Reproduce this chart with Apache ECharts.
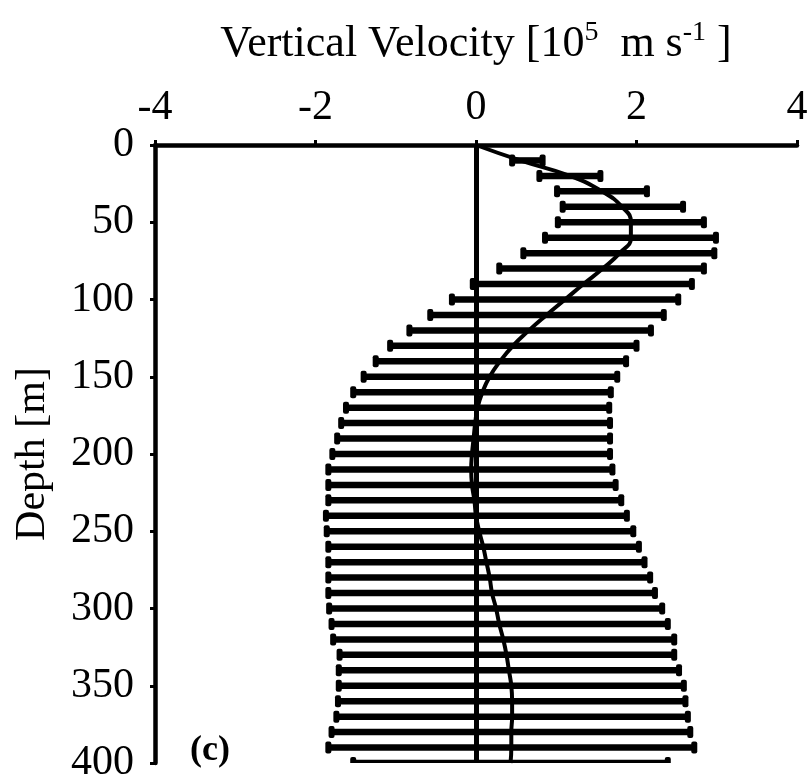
<!DOCTYPE html>
<html>
<head>
<meta charset="utf-8">
<script src="https://cdn.jsdelivr.net/npm/echarts@6/dist/echarts.min.js"></script>
<style>
  html, body { margin: 0; padding: 0; background: #fff; }
  #chart { width: 809px; height: 783px; }
</style>
</head>
<body>
<div id="chart"></div>
<script>
// Depth levels (m) for the mean profile
const curveDepth = [0,10,20,30,40,50,60,70,80,90,100,110,120,130,140,150,160,170,180,190,200,
  210,220,230,240,250,260,270,280,290,300,310,320,330,340,350,360,370,380,390,400];
// Mean vertical velocity profile (1e-5 m/s)
const meanVel = [0,0.55,1.17,1.57,1.82,1.93,1.93,1.79,1.58,1.34,1.11,0.88,0.66,0.46,0.30,0.17,0.08,0.02,-0.01,-0.03,-0.05,
  -0.06,-0.05,-0.02,0.00,0.04,0.09,0.13,0.17,0.20,0.25,0.29,0.34,0.38,0.41,0.44,0.45,0.45,0.44,0.44,0.43];

// Depth levels (m) with a spread bar
const barDepth = [10,20,30,40,50,60,70,80,90,100,110,120,130,140,150,160,170,180,190,200,
  210,220,230,240,250,260,270,280,290,300,310,320,330,340,350,360,370,380,390,400];
// Lower and upper limits of the spread (1e-5 m/s)
const lowerVel = [0.45,0.79,1.01,1.08,1.02,0.86,0.59,0.29,-0.04,-0.30,-0.57,-0.83,-1.07,-1.25,-1.40,-1.53,-1.62,-1.68,-1.73,-1.79,
  -1.84,-1.84,-1.84,-1.87,-1.86,-1.84,-1.84,-1.84,-1.84,-1.83,-1.80,-1.78,-1.70,-1.71,-1.71,-1.72,-1.74,-1.80,-1.84,-1.53];
const upperVel = [0.83,1.55,2.13,2.58,2.84,2.99,2.97,2.84,2.69,2.52,2.34,2.18,2.00,1.87,1.76,1.68,1.66,1.67,1.67,1.67,
  1.70,1.74,1.81,1.88,1.96,2.03,2.10,2.17,2.23,2.32,2.39,2.47,2.47,2.53,2.59,2.61,2.64,2.67,2.72,2.39];

// Axis ticks
const xTicks = [-4, -2, 0, 2, 4];
const yTicks = [0, 50, 100, 150, 200, 250, 300, 350, 400];

const serif = 'Liberation Serif';
const chart = echarts.init(document.getElementById('chart'));

const barData = barDepth.map((d, i) => [lowerVel[i], upperVel[i], d]);
const curveData = curveDepth.map((d, i) => [meanVel[i], d]);

chart.setOption({
  animation: false,
  backgroundColor: '#fff',
  grid: { left: 155, right: 12, top: 145, bottom: 20, containLabel: false, outerBoundsMode: 'none' },
  xAxis: {
    type: 'value',
    position: 'top',
    min: xTicks[0], max: xTicks[xTicks.length - 1], interval: 2,
    splitLine: { show: false },
    axisLine: { show: true, onZero: false, lineStyle: { color: '#000', width: 4.5 } },
    axisTick: { show: true, length: 5, lineStyle: { color: '#000', width: 3 } },
    axisLabel: { color: '#000', fontFamily: serif, fontSize: 42, margin: 16 },
    name: '{a|Vertical Velocity [10}{s|5}{a|  m s}{s|-1}{a| ]}',
    nameLocation: 'middle',
    nameGap: 76,
    nameTextStyle: {
      rich: {
        a: { fontFamily: serif, fontSize: 44, color: '#000', lineHeight: 50 },
        s: { fontFamily: serif, fontSize: 28, color: '#000', lineHeight: 28, verticalAlign: 'top' }
      }
    }
  },
  yAxis: {
    type: 'value',
    inverse: true,
    min: yTicks[0], max: yTicks[yTicks.length - 1], interval: 50,
    splitLine: { show: false },
    axisLine: { show: true, onZero: false, lineStyle: { color: '#000', width: 4.5 } },
    axisTick: { show: true, length: 5, lineStyle: { color: '#000', width: 3 } },
    axisLabel: { color: '#000', fontFamily: serif, fontSize: 42, margin: 21 },
    name: 'Depth [m]',
    nameLocation: 'middle',
    nameGap: 101,
    nameRotate: 90,
    nameTextStyle: { fontFamily: serif, fontSize: 42, color: '#000' }
  },
  graphic: [{
    type: 'text',
    left: 190, top: 733,
    style: { text: '(c)', fontFamily: serif, fontWeight: 'bold', fontSize: 36, fill: '#000' }
  }],
  series: [
    {
      type: 'custom',
      clip: true,
      silent: true,
      data: barData,
      encode: { x: [0, 1], y: 2 },
      renderItem: function (params, api) {
        const d = api.value(2);
        const p1 = api.coord([api.value(0), d]);
        const p2 = api.coord([api.value(1), d]);
        const capH = 12, capW = 6;
        return {
          type: 'group',
          children: [
            { type: 'line', shape: { x1: p1[0], y1: p1[1], x2: p2[0], y2: p2[1] },
              style: { stroke: '#000', lineWidth: 6.5 } },
            { type: 'rect', shape: { x: p1[0] - capW / 2, y: p1[1] - capH / 2, width: capW, height: capH, r: 2 },
              style: { fill: '#000' } },
            { type: 'rect', shape: { x: p2[0] - capW / 2, y: p2[1] - capH / 2, width: capW, height: capH, r: 2 },
              style: { fill: '#000' } }
          ]
        };
      },
      markLine: {
        silent: true,
        symbol: 'none',
        label: { show: false },
        lineStyle: { color: '#000', width: 5, type: 'solid' },
        data: [{ xAxis: 0 }]
      },
      z: 2
    },
    {
      type: 'line',
      data: curveData,
      smooth: true,
      showSymbol: false,
      silent: true,
      lineStyle: { color: '#000', width: 4 },
      z: 3
    }
  ]
});
</script>
</body>
</html>
